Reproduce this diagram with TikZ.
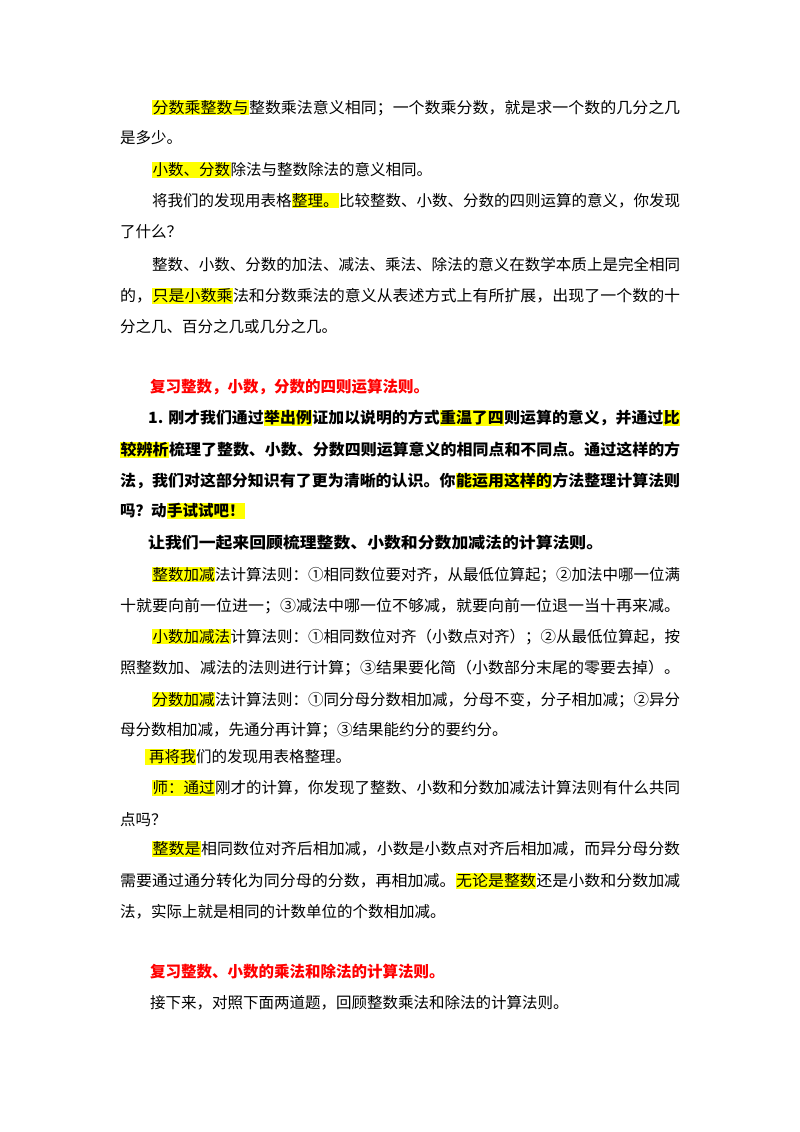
\documentclass[tikz,border=0pt]{standalone}
\usepackage{fontspec}
\usepackage{graphicx}
\setmainfont{Noto Sans CJK SC}
\definecolor{hly}{HTML}{FFFF00}
\definecolor{redh}{HTML}{FF0000}
\newcommand\hlt[1]{{\setlength\fboxsep{0.5pt}\colorbox{hly}{#1}}}
\newcommand\fullw[2]{\resizebox{#1}{\height}{#2}}
\begin{document}
\begin{tikzpicture}[x=1pt,y=-1pt,
  tx/.style={anchor=west,inner sep=0pt,font=\fontsize{15.5}{18}\selectfont},
  bd/.style={tx,font=\fontsize{15.5}{18}\selectfont\bfseries},
  rd/.style={bd,text=redh}]
\useasboundingbox[fill=white] (0,0) rectangle (800,1132);
\node[tx] (l1) at (152,108) {\fullw{528pt}{\hlt{分数乘整数与}整数乘法意义相同；一个数乘分数，就是求一个数的几分之几}};
\node[tx] (l2) at (120,138) {是多少。};
\node[tx] (l3) at (152,170) {\hlt{小数、分数}除法与整数除法的意义相同。};
\node[tx] (l4) at (152,201) {\fullw{528pt}{将我们的发现用表格\hlt{整理。}比较整数、小数、分数的四则运算的意义，你发现}};
\node[tx] (l5) at (120,232) {了什么？};
\node[tx] (l6) at (152,265) {\fullw{528pt}{整数、小数、分数的加法、减法、乘法、除法的意义在数学本质上是完全相同}};
\node[tx] (l7) at (120,296) {\fullw{560pt}{的，\hlt{只是小数乘}法和分数乘法的意义从表述方式上有所扩展，出现了一个数的十}};
\node[tx] (l8) at (120,327) {分之几、百分之几或几分之几。};
\node[rd] (h1) at (150,387) {复习整数，小数，分数的四则运算法则。};
\node[bd] (l9) at (148,418) {\fullw{532pt}{1. 刚才我们通过\hlt{举出例}证加以说明的方式\hlt{重温了四}则运算的意义，并通过\hlt{比}}};
\node[bd] (l10) at (120,450) {\fullw{560pt}{\hlt{较辨析}梳理了整数、小数、分数四则运算意义的相同点和不同点。通过这样的方}};
\node[bd] (l11) at (120,481) {\fullw{560pt}{法，我们对这部分知识有了更为清晰的认识。你\hlt{能运用这样的}方法整理计算法则}};
\node[bd] (l12) at (120,511) {吗？动\hlt{手试试吧！}};
\node[bd] (l13) at (148,543) {\fullw{455pt}{让我们一起来回顾梳理整数、小数和分数加减法的计算法则。}};
\node[tx] (l14) at (152,575) {\fullw{528pt}{\hlt{整数加减}法计算法则：①相同数位要对齐，从最低位算起；②加法中哪一位满}};
\node[tx] (l15) at (120,606) {\fullw{560pt}{十就要向前一位进一；③减法中哪一位不够减，就要向前一位退一当十再来减。}};
\node[tx] (l16) at (152,637) {\fullw{528pt}{\hlt{小数加减法}计算法则：①相同数位对齐（小数点对齐）；②从最低位算起，按}};
\node[tx] (l17) at (120,668) {\fullw{560pt}{照整数加、减法的法则进行计算；③结果要化简（小数部分末尾的零要去掉）。}};
\node[tx] (l18) at (152,700) {\fullw{528pt}{\hlt{分数加减}法计算法则：①同分母分数相加减，分母不变，分子相加减；②异分}};
\node[tx] (l19) at (120,730) {母分数相加减，先通分再计算；③结果能约分的要约分。};
\node[tx] (l20) at (145,757) {\hlt{\ 再将我}们的发现用表格整理。};
\node[tx] (l21) at (152,788) {\fullw{528pt}{\hlt{师：通过}刚才的计算，你发现了整数、小数和分数加减法计算法则有什么共同}};
\node[tx] (l22) at (120,820) {点吗？};
\node[tx] (l23) at (152,849) {\fullw{528pt}{\hlt{整数是}相同数位对齐后相加减，小数是小数点对齐后相加减，而异分母分数}};
\node[tx] (l24) at (120,881) {\fullw{560pt}{需要通过通分转化为同分母的分数，再相加减。\hlt{无论是整数}还是小数和分数加减}};
\node[tx] (l25) at (120,912) {法，实际上就是相同的计数单位的个数相加减。};
\node[rd] (h2) at (150,972) {复习整数、小数的乘法和除法的计算法则。};
\node[tx] (l26) at (150,1003) {接下来，对照下面两道题，回顾整数乘法和除法的计算法则。};
\end{tikzpicture}
\end{document}
